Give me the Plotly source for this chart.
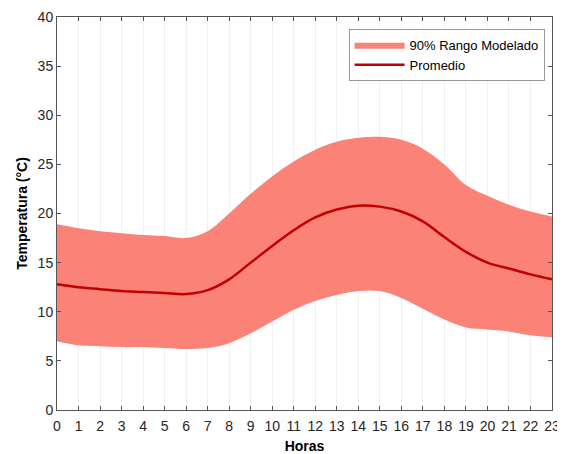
import plotly.graph_objects as go

# datos
horas = list(range(24))
promedio = [12.8, 12.5, 12.3, 12.1, 12.0, 11.9, 11.8, 12.2, 13.3, 15.0, 16.7, 18.3,
            19.6, 20.4, 20.8, 20.7, 20.2, 19.2, 17.6, 16.1, 15.0, 14.4, 13.8, 13.3]
superior = [18.9, 18.5, 18.2, 18.0, 17.8, 17.7, 17.5, 18.2, 20.0, 22.0, 23.8, 25.3,
            26.5, 27.3, 27.7, 27.8, 27.5, 26.6, 25.0, 22.9, 21.8, 20.9, 20.2, 19.7]
inferior = [7.0, 6.6, 6.5, 6.4, 6.4, 6.3, 6.2, 6.3, 6.8, 7.8, 9.0, 10.2,
            11.1, 11.7, 12.1, 12.1, 11.4, 10.3, 9.2, 8.4, 8.2, 8.0, 7.6, 7.4]

fig = go.Figure()

fig.add_trace(go.Scatter(x=horas, y=inferior, mode="lines", line=dict(width=0, shape="spline"),
                         showlegend=False, hoverinfo="skip"))
fig.add_trace(go.Scatter(x=horas, y=superior, mode="lines", line=dict(width=0, shape="spline"),
                         fill="tonexty", fillcolor="rgb(250,130,118)",
                         name="90% Rango Modelado"))
fig.add_trace(go.Scatter(x=horas, y=promedio, mode="lines",
                         line=dict(color="rgb(195,0,0)", width=2.5, shape="spline"),
                         name="Promedio"))

# la pagina tiene 8px de margen en el body, se compensa aqui
fig.update_layout(
    width=557, height=446,
    margin=dict(l=49, r=13, t=9, b=44),
    paper_bgcolor="white", plot_bgcolor="white",
    font=dict(family="Liberation Sans, Arial", size=14, color="#262626"),
    legend=dict(x=0.985, y=0.97, xanchor="right", yanchor="top",
                traceorder="normal", itemwidth=50,
                bgcolor="white", bordercolor="#999999", borderwidth=1,
                font=dict(size=13, color="black"), tracegroupgap=0),
)

fig.update_xaxes(range=[0, 23], tickmode="array", tickvals=horas,
                 ticks="inside", ticklen=4, tickcolor="#555555", ticklabelstandoff=3,
                 showline=True, linecolor="#555555", mirror="allticks",
                 showgrid=True, gridcolor="#f0f0f0", zeroline=False, automargin=False,
                 title=dict(text="<b>Horas</b>", standoff=12, font=dict(size=14, color="black")))
fig.update_yaxes(range=[0, 40], tickvals=[0, 5, 10, 15, 20, 25, 30, 35, 40],
                 ticks="inside", ticklen=4, tickcolor="#555555",
                 showline=True, linecolor="#555555", mirror="allticks",
                 showgrid=False, zeroline=False, automargin=False,
                 title=dict(text="<b>Temperatura (°C)</b>", standoff=6, font=dict(size=14, color="black")))

fig.write_html("out.html")
